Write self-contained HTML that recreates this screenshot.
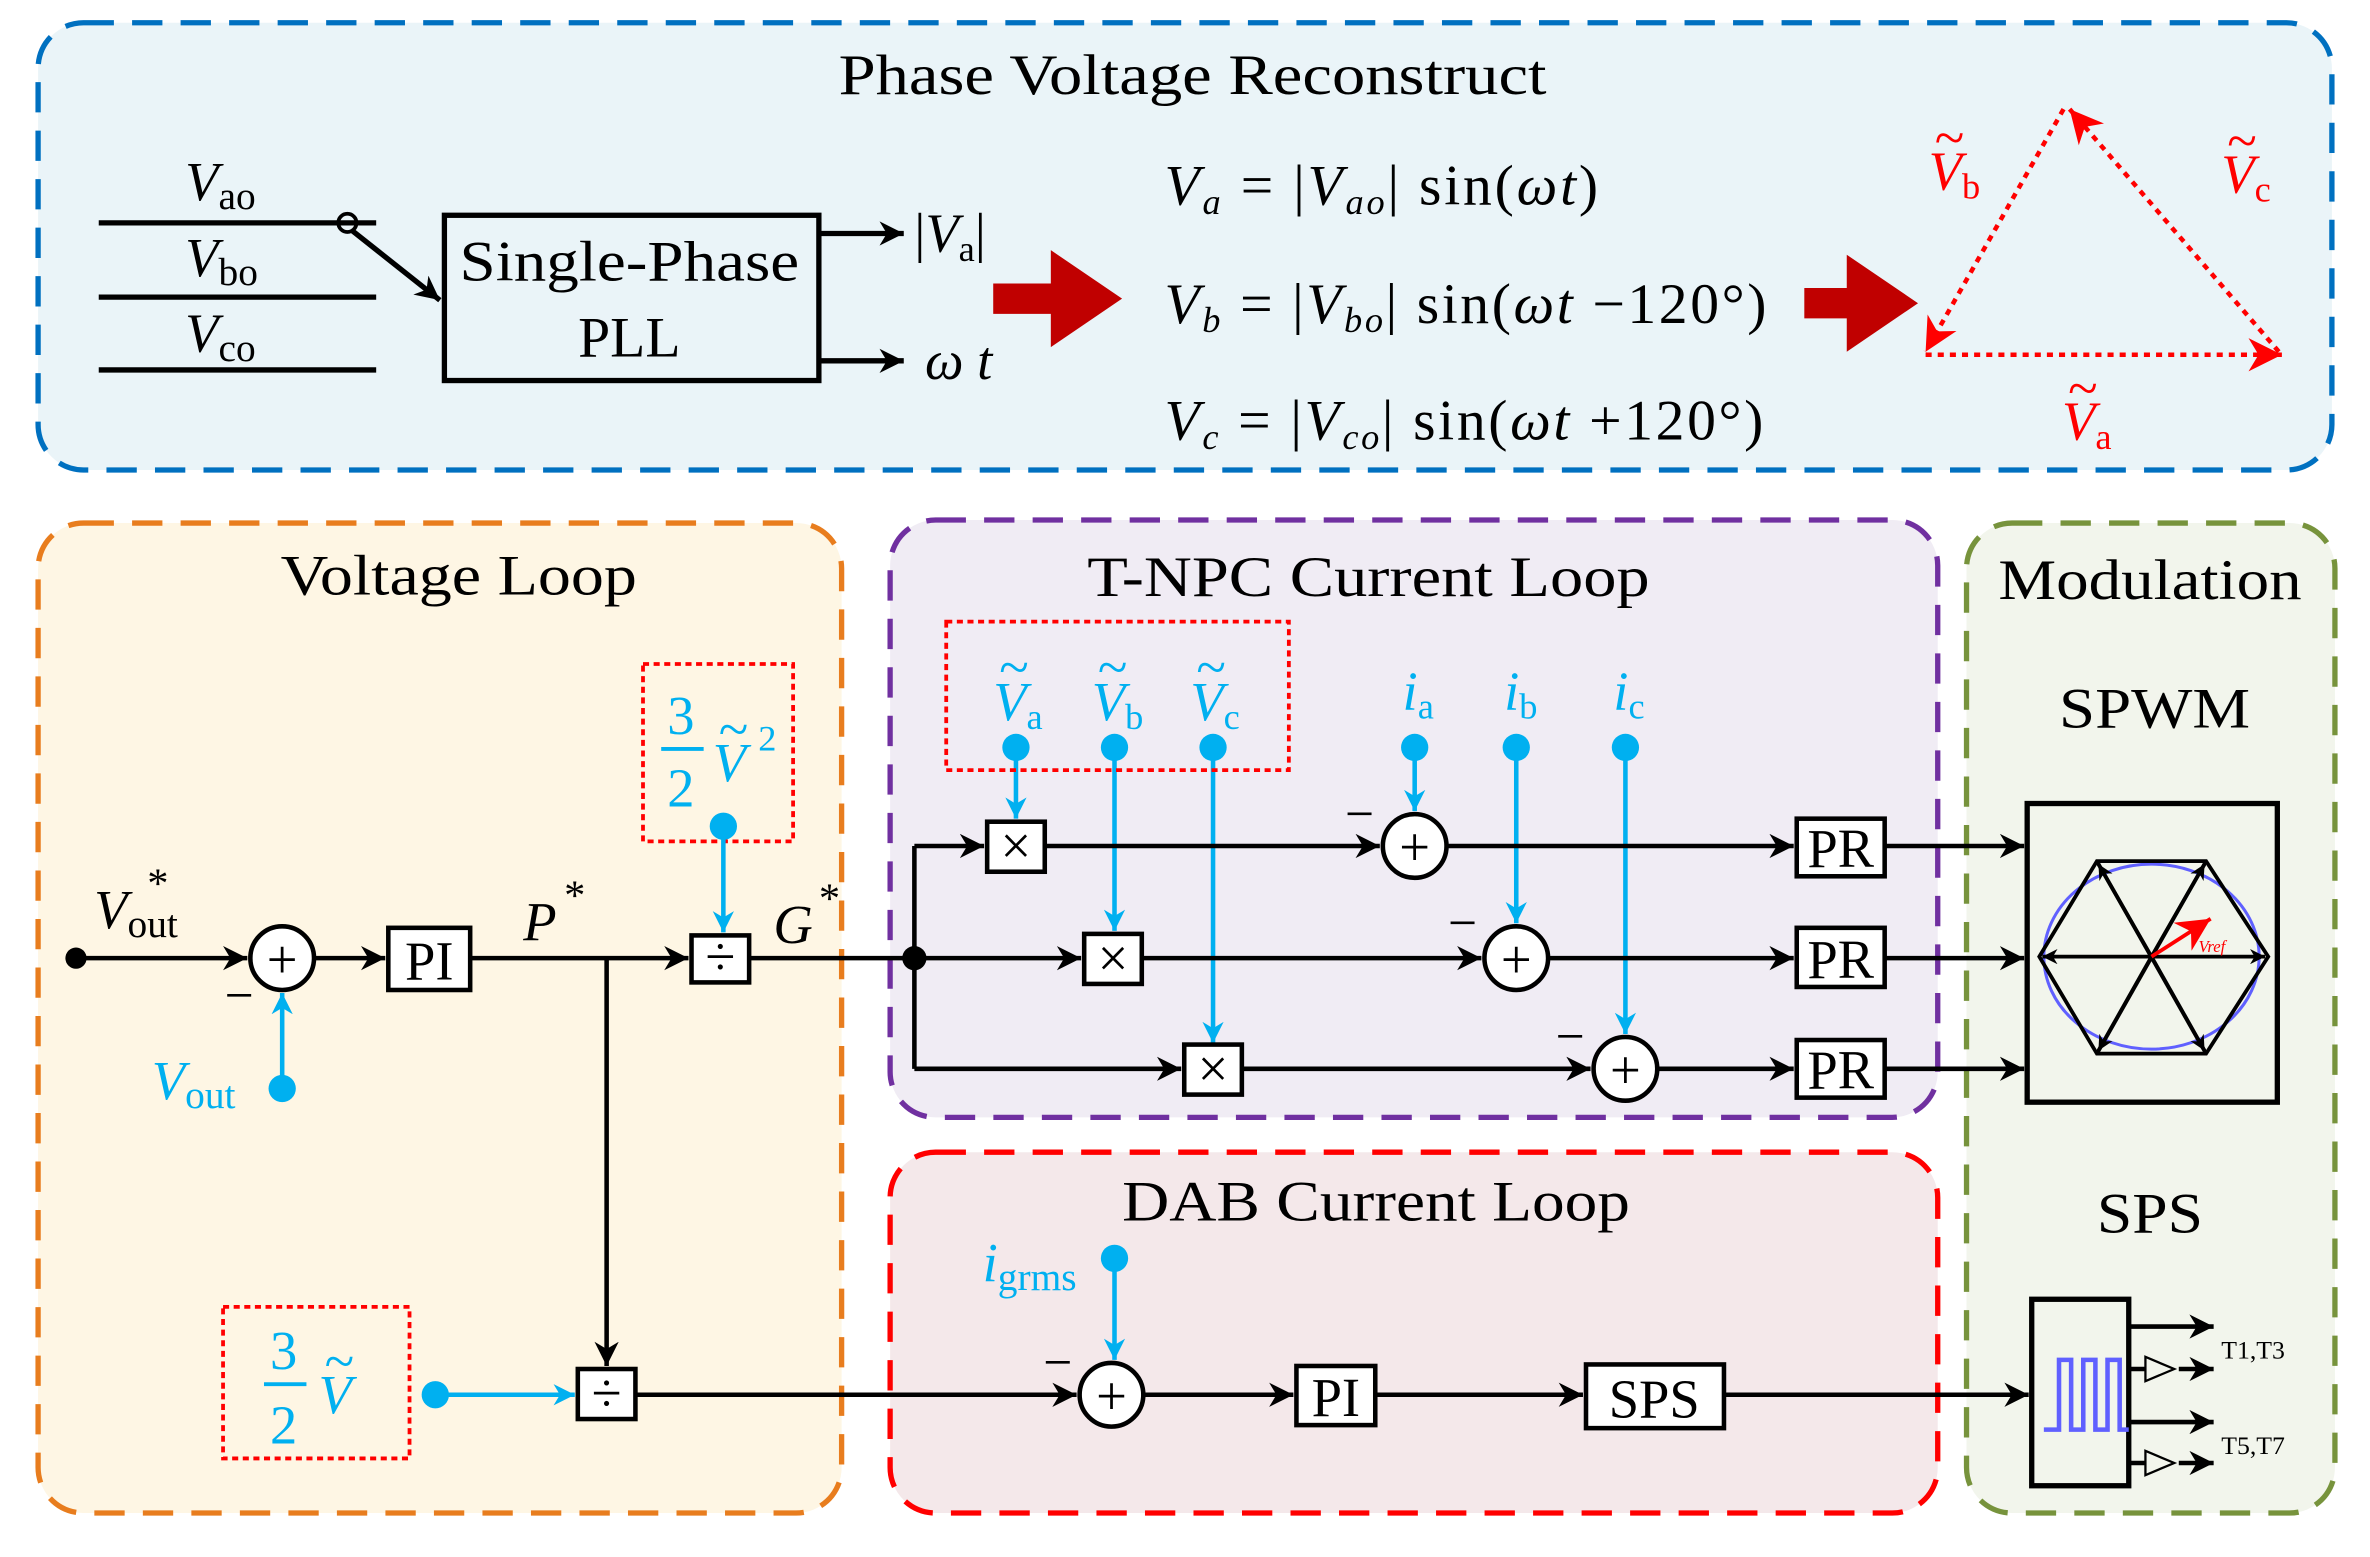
<!DOCTYPE html>
<html><head><meta charset="utf-8"><style>
html,body{margin:0;padding:0;background:#fff}
svg{display:block}
text{font-family:"Liberation Serif",serif}
</style></head><body>
<svg width="2370" height="1557" viewBox="0 0 1563 1027" xmlns="http://www.w3.org/2000/svg">
<defs>
<marker id="a" viewBox="0 0 10 10" refX="10" refY="5" markerWidth="16" markerHeight="16" markerUnits="userSpaceOnUse" orient="auto"><path d="M0,0L10,5L0,10L3,5z" fill="#000"/></marker>
<marker id="ab" viewBox="0 0 10 10" refX="10" refY="5" markerWidth="14" markerHeight="14" markerUnits="userSpaceOnUse" orient="auto"><path d="M0,0L10,5L0,10L3,5z" fill="#00b0f0"/></marker>
<marker id="ar" viewBox="0 0 10 10" refX="10" refY="5" markerWidth="22" markerHeight="22" markerUnits="userSpaceOnUse" orient="auto"><path d="M0,0L10,5L0,10L3,5z" fill="#ff0000"/></marker>
<marker id="ah" viewBox="0 0 10 10" refX="10" refY="5" markerWidth="10" markerHeight="10" markerUnits="userSpaceOnUse" orient="auto"><path d="M0,0L10,5L0,10L3,5z" fill="#000"/></marker>
</defs>
<rect width="1563" height="1027" fill="#fff"/>
<rect x="25" y="15" width="1513" height="295" rx="30" fill="#eaf4f8" stroke="#0070c0" stroke-width="3.5" stroke-dasharray="20 12"/>
<rect x="25" y="345" width="530" height="653" rx="30" fill="#fef6e4" stroke="#e87d1e" stroke-width="3.5" stroke-dasharray="20 12"/>
<rect x="587" y="343" width="691" height="394" rx="30" fill="#f0ecf4" stroke="#7030a0" stroke-width="3.5" stroke-dasharray="20 12"/>
<rect x="587" y="760" width="691" height="238" rx="30" fill="#f4e8ea" stroke="#ff0000" stroke-width="3.5" stroke-dasharray="20 12"/>
<rect x="1297" y="345" width="243" height="653" rx="30" fill="#f2f5ec" stroke="#77933c" stroke-width="3.5" stroke-dasharray="20 12"/>

<g font-size="38" lengthAdjust="spacingAndGlyphs">
<text x="553" y="62" textLength="467" lengthAdjust="spacingAndGlyphs">Phase Voltage Reconstruct</text>
<text x="185" y="392" textLength="235" lengthAdjust="spacingAndGlyphs">Voltage Loop</text>
<text x="717" y="393" textLength="371" lengthAdjust="spacingAndGlyphs">T-NPC Current Loop</text>
<text x="1318" y="395" textLength="200" lengthAdjust="spacingAndGlyphs">Modulation</text>
<text x="1358" y="480" textLength="126" lengthAdjust="spacingAndGlyphs">SPWM</text>
<text x="1383" y="813" textLength="70" lengthAdjust="spacingAndGlyphs">SPS</text>
<text x="740" y="805" textLength="335" lengthAdjust="spacingAndGlyphs">DAB Current Loop</text>
</g>

<g stroke="#000" stroke-width="3.5" fill="none">
<line x1="65" y1="147" x2="248" y2="147"/>
<line x1="65" y1="196" x2="248" y2="196"/>
<line x1="65" y1="244" x2="248" y2="244"/>
<circle cx="229" cy="147" r="6" stroke-width="2.5"/>
<line x1="232" y1="152" x2="290" y2="198" marker-end="url(#a)"/>
<rect x="293" y="142" width="247" height="109" fill="#eaf4f8"/>
<line x1="540" y1="154" x2="596" y2="154" marker-end="url(#a)"/>
<line x1="540" y1="238" x2="596" y2="238" marker-end="url(#a)"/>
</g>
<g font-size="38"><text x="303" y="185" textLength="224" lengthAdjust="spacingAndGlyphs">Single-Phase</text><text x="415" y="235" text-anchor="middle">PLL</text></g>
<g font-size="36">
<text x="122" y="132" font-style="italic">V<tspan font-size="26" font-style="normal" dy="6">ao</tspan></text>
<text x="122" y="182" font-style="italic">V<tspan font-size="26" font-style="normal" dy="6">bo</tspan></text>
<text x="122" y="232" font-style="italic">V<tspan font-size="26" font-style="normal" dy="6">co</tspan></text>
<text x="603" y="166">|<tspan font-style="italic">V</tspan><tspan font-size="24" dy="6">a</tspan><tspan dy="-6">|</tspan></text>
<text x="610" y="250" font-style="italic">ω t</text>
</g>
<path d="M655,187 h38 v-22 l47,32 l-47,32 v-22 h-38z" fill="#c00000"/>
<path d="M1190,190 h28 v-22 l47,32 l-47,32 v-22 h-28z" fill="#c00000"/>
<g font-size="38">
<text x="768" y="135" textLength="286" lengthAdjust="spacing"><tspan font-style="italic">V</tspan><tspan font-size="24" font-style="italic" dy="6">a</tspan><tspan dy="-6"> = |</tspan><tspan font-style="italic">V</tspan><tspan font-size="24" font-style="italic" dy="6">ao</tspan><tspan dy="-6">| sin(</tspan><tspan font-style="italic">ωt</tspan>)</text>
<text x="768" y="213" textLength="397" lengthAdjust="spacing"><tspan font-style="italic">V</tspan><tspan font-size="24" font-style="italic" dy="6">b</tspan><tspan dy="-6"> = |</tspan><tspan font-style="italic">V</tspan><tspan font-size="24" font-style="italic" dy="6">bo</tspan><tspan dy="-6">| sin(</tspan><tspan font-style="italic">ωt</tspan> −120°)</text>
<text x="768" y="290" textLength="395" lengthAdjust="spacing"><tspan font-style="italic">V</tspan><tspan font-size="24" font-style="italic" dy="6">c</tspan><tspan dy="-6"> = |</tspan><tspan font-style="italic">V</tspan><tspan font-size="24" font-style="italic" dy="6">co</tspan><tspan dy="-6">| sin(</tspan><tspan font-style="italic">ωt</tspan> +120°)</text>
</g>
<g stroke="#ff0000" stroke-width="3" stroke-dasharray="4 4" fill="none">
<line x1="1270" y1="234" x2="1505" y2="234" marker-end="url(#ar)"/>
<line x1="1503" y1="232" x2="1365" y2="72" marker-end="url(#ar)"/>
<line x1="1361" y1="72" x2="1270" y2="232" marker-end="url(#ar)"/>
</g>
<g font-size="36" fill="#ff0000" font-style="italic">
<text x="1272" y="125">V<tspan font-size="24" font-style="normal" dy="6">b</tspan></text><text x="1276" y="103" font-style="normal">~</text>
<text x="1465" y="127">V<tspan font-size="24" font-style="normal" dy="6">c</tspan></text><text x="1469" y="105" font-style="normal">~</text>
<text x="1360" y="290">V<tspan font-size="24" font-style="normal" dy="6">a</tspan></text><text x="1364" y="268" font-style="normal">~</text>
</g>

<g stroke="#000" stroke-width="3" fill="none">
<line x1="50" y1="632" x2="163" y2="632" marker-end="url(#a)"/>
<circle cx="186" cy="632" r="21" fill="#fff"/>
<line x1="207" y1="632" x2="254" y2="632" marker-end="url(#a)"/>
<rect x="256" y="612" width="54" height="41" fill="#fff"/>
<line x1="310" y1="632" x2="454" y2="632" marker-end="url(#a)"/>
<rect x="456" y="617" width="38" height="31" fill="#fff"/>
<line x1="494" y1="632" x2="603" y2="632"/>
<line x1="400" y1="632" x2="400" y2="901" marker-end="url(#a)"/>
<rect x="381" y="903" width="38" height="33" fill="#fff"/>
<line x1="419" y1="920" x2="710" y2="920" marker-end="url(#a)"/>
<line x1="603" y1="558" x2="603" y2="705"/>
</g>
<circle cx="50" cy="632" r="7"/><circle cx="603" cy="632" r="8"/>
<g font-size="36" text-anchor="middle"><text x="186" y="645">+</text><text x="283" y="646">PI</text><text x="475" y="643">÷</text><text x="400" y="931">÷</text></g>
<text x="148" y="668" font-size="34">−</text>
<g font-size="36" font-style="italic">
<text x="62" y="612">V<tspan font-size="26" font-style="normal" dy="6">out</tspan></text><text x="97" y="592" font-size="28" font-style="normal">*</text>
<text x="345" y="620">P</text><text x="372" y="600" font-size="28" font-style="normal">*</text>
<text x="510" y="622">G</text><text x="540" y="602" font-size="28" font-style="normal">*</text>
</g>
<rect x="424" y="438" width="99" height="117" fill="none" stroke="#ff0000" stroke-width="2.5" stroke-dasharray="4 3"/>
<rect x="147" y="862" width="123" height="100" fill="none" stroke="#ff0000" stroke-width="2.5" stroke-dasharray="4 3"/>
<g fill="#00b0f0" font-size="36">
<text x="440" y="484">3</text><line x1="436" y1="494" x2="464" y2="494" stroke="#00b0f0" stroke-width="2.5"/><text x="440" y="532">2</text>
<text x="470" y="515" font-style="italic">V</text><text x="474" y="493">~</text><text x="500" y="495" font-size="24">2</text>
<text x="178" y="903">3</text><line x1="174" y1="913" x2="202" y2="913" stroke="#00b0f0" stroke-width="2.5"/><text x="178" y="952">2</text>
<text x="210" y="932" font-style="italic">V</text><text x="214" y="910">~</text>
<text x="100" y="725" font-style="italic">V<tspan font-size="26" font-style="normal" dy="6">out</tspan></text>
</g>
<g stroke="#00b0f0" stroke-width="3" fill="none">
<line x1="477" y1="545" x2="477" y2="615" marker-end="url(#ab)"/>
<line x1="186" y1="718" x2="186" y2="655" marker-end="url(#ab)"/>
<line x1="287" y1="920" x2="379" y2="920" marker-end="url(#ab)"/>
<line x1="735" y1="830" x2="735" y2="897" marker-end="url(#ab)"/>
<line x1="670" y1="493" x2="670" y2="540" marker-end="url(#ab)"/>
<line x1="735" y1="493" x2="735" y2="614" marker-end="url(#ab)"/>
<line x1="800" y1="493" x2="800" y2="688" marker-end="url(#ab)"/>
<line x1="933" y1="493" x2="933" y2="535" marker-end="url(#ab)"/>
<line x1="1000" y1="493" x2="1000" y2="609" marker-end="url(#ab)"/>
<line x1="1072" y1="493" x2="1072" y2="682" marker-end="url(#ab)"/>
</g>
<g fill="#00b0f0"><circle cx="477" cy="545" r="9"/><circle cx="186" cy="718" r="9"/><circle cx="287" cy="920" r="9"/><circle cx="735" cy="830" r="9"/>
<circle cx="670" cy="493" r="9"/><circle cx="735" cy="493" r="9"/><circle cx="800" cy="493" r="9"/><circle cx="933" cy="493" r="9"/><circle cx="1000" cy="493" r="9"/><circle cx="1072" cy="493" r="9"/></g>

<rect x="624" y="410" width="226" height="98" fill="none" stroke="#ff0000" stroke-width="2.5" stroke-dasharray="4 3"/>
<g fill="#00b0f0" font-size="36" font-style="italic">
<text x="655" y="475">V<tspan font-size="24" font-style="normal" dy="6">a</tspan></text><text x="659" y="452" font-style="normal">~</text>
<text x="720" y="475">V<tspan font-size="24" font-style="normal" dy="6">b</tspan></text><text x="724" y="452" font-style="normal">~</text>
<text x="785" y="475">V<tspan font-size="24" font-style="normal" dy="6">c</tspan></text><text x="789" y="452" font-style="normal">~</text>
<text x="925" y="468">i<tspan font-size="24" font-style="normal" dy="6">a</tspan></text>
<text x="992" y="468">i<tspan font-size="24" font-style="normal" dy="6">b</tspan></text>
<text x="1064" y="468">i<tspan font-size="24" font-style="normal" dy="6">c</tspan></text>
<text x="648" y="845">i<tspan font-size="26" font-style="normal" dy="6">grms</tspan></text>
</g>
<g stroke="#000" stroke-width="3" fill="none">
<line x1="603" y1="558" x2="649" y2="558" marker-end="url(#a)"/>
<rect x="651" y="542" width="38" height="33" fill="#fff"/>
<line x1="689" y1="558" x2="910" y2="558" marker-end="url(#a)"/>
<circle cx="933" cy="558" r="21" fill="#fff"/>
<line x1="954" y1="558" x2="1183" y2="558" marker-end="url(#a)"/>
<rect x="1185" y="540" width="58" height="38" fill="#fff"/>
<line x1="1243" y1="558" x2="1335" y2="558" marker-end="url(#a)"/>
<line x1="603" y1="632" x2="713" y2="632" marker-end="url(#a)"/>
<rect x="715" y="616" width="38" height="33" fill="#fff"/>
<line x1="753" y1="632" x2="977" y2="632" marker-end="url(#a)"/>
<circle cx="1000" cy="632" r="21" fill="#fff"/>
<line x1="1021" y1="632" x2="1183" y2="632" marker-end="url(#a)"/>
<rect x="1185" y="612" width="58" height="39" fill="#fff"/>
<line x1="1243" y1="632" x2="1335" y2="632" marker-end="url(#a)"/>
<line x1="603" y1="705" x2="779" y2="705" marker-end="url(#a)"/>
<rect x="781" y="689" width="38" height="33" fill="#fff"/>
<line x1="819" y1="705" x2="1049" y2="705" marker-end="url(#a)"/>
<circle cx="1072" cy="705" r="21" fill="#fff"/>
<line x1="1093" y1="705" x2="1183" y2="705" marker-end="url(#a)"/>
<rect x="1185" y="686" width="58" height="38" fill="#fff"/>
<line x1="1243" y1="705" x2="1335" y2="705" marker-end="url(#a)"/>
<circle cx="733" cy="920" r="21" fill="#fff"/>
<line x1="754" y1="920" x2="853" y2="920" marker-end="url(#a)"/>
<rect x="855" y="901" width="52" height="39" fill="#fff"/>
<line x1="907" y1="920" x2="1044" y2="920" marker-end="url(#a)"/>
<rect x="1046" y="900" width="91" height="42" fill="#fff"/>
<line x1="1137" y1="920" x2="1338" y2="920" marker-end="url(#a)"/>
</g>
<g font-size="36" text-anchor="middle">
<text x="670" y="570">×</text><text x="734" y="644">×</text><text x="800" y="717">×</text>
<text x="933" y="571">+</text><text x="1000" y="645">+</text><text x="1072" y="718">+</text><text x="733" y="933">+</text>
<text x="1214" y="572">PR</text><text x="1214" y="645">PR</text><text x="1214" y="718">PR</text>
<text x="881" y="934">PI</text><text x="1091" y="935">SPS</text>
</g>
<g font-size="34"><text x="887" y="548">−</text><text x="955" y="620">−</text><text x="1026" y="695">−</text><text x="688" y="910">−</text></g>

<rect x="1337" y="530" width="165" height="197" fill="none" stroke="#000" stroke-width="3.5"/>
<ellipse cx="1419" cy="631" rx="71" ry="61" fill="none" stroke="#6060ff" stroke-width="2"/>
<g stroke="#000" stroke-width="2.5" fill="none">
<polygon points="1345,631 1383,568 1455,568 1496,631 1455,695 1383,695"/>
<line x1="1383" y1="568" x2="1455" y2="695"/><line x1="1455" y1="568" x2="1383" y2="695"/>
<line x1="1419" y1="631" x2="1347" y2="631" marker-end="url(#ah)"/>
<line x1="1419" y1="631" x2="1494" y2="631" marker-end="url(#ah)"/>
<line x1="1419" y1="631" x2="1384" y2="570" marker-end="url(#ah)"/>
<line x1="1419" y1="631" x2="1454" y2="570" marker-end="url(#ah)"/>
<line x1="1419" y1="631" x2="1384" y2="693" marker-end="url(#ah)"/>
<line x1="1419" y1="631" x2="1454" y2="693" marker-end="url(#ah)"/>
</g>
<line x1="1419" y1="631" x2="1458" y2="606" stroke="#ff0000" stroke-width="2.5" marker-end="url(#ar)"/>
<text x="1450" y="628" font-size="11" fill="#ff0000" font-style="italic">Vref</text>
<rect x="1340" y="857" width="64" height="123" fill="none" stroke="#000" stroke-width="3.5"/>
<path d="M1348,943 h10 v-46 h8 v46 h8 v-46 h8 v46 h8 v-46 h8 v46 h6" fill="none" stroke="#6060ff" stroke-width="3"/>
<g stroke="#000" stroke-width="3" fill="none">
<line x1="1404" y1="875" x2="1460" y2="875" marker-end="url(#a)"/>
<line x1="1404" y1="903" x2="1415" y2="903"/><polygon points="1415,895 1415,911 1434,903" stroke-width="1.5"/><line x1="1437" y1="903" x2="1460" y2="903" marker-end="url(#a)"/>
<line x1="1404" y1="938" x2="1460" y2="938" marker-end="url(#a)"/>
<line x1="1404" y1="965" x2="1415" y2="965"/><polygon points="1415,957 1415,973 1434,965" stroke-width="1.5"/><line x1="1437" y1="965" x2="1460" y2="965" marker-end="url(#a)"/>
</g>
<g font-size="17"><text x="1465" y="896">T1,T3</text><text x="1465" y="959">T5,T7</text></g>
</svg>
</body></html>
